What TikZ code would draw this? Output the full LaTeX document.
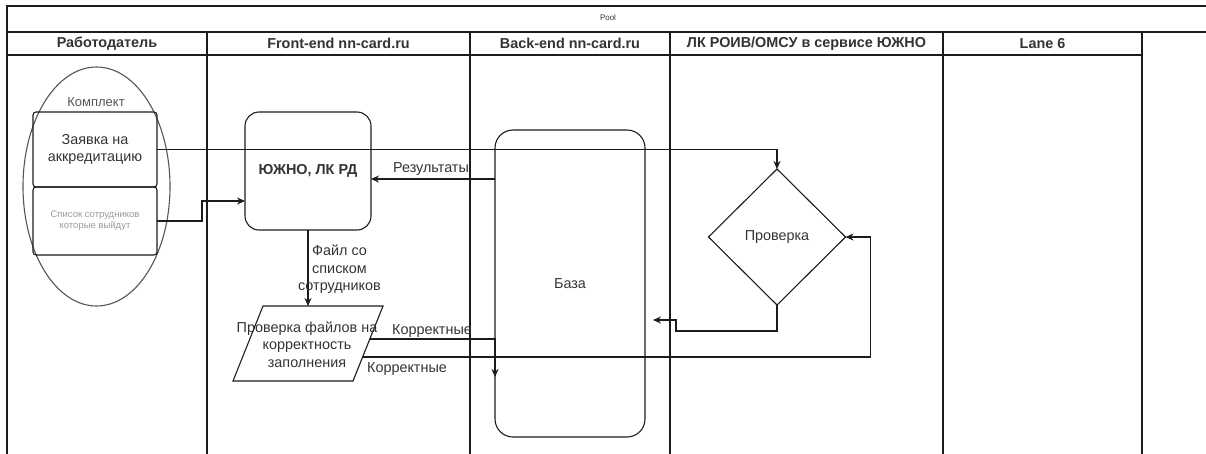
\documentclass[tikz,border=0pt]{standalone}
\usepackage{fontspec}
\setmainfont{Liberation Sans}
\usetikzlibrary{arrows.meta,shapes.geometric,calc}
\definecolor{ln}{HTML}{1C1C1C}
\definecolor{txt}{HTML}{333333}
\definecolor{elc}{HTML}{555555}
\definecolor{faint}{HTML}{9A9A9A}
\begin{document}
\begin{tikzpicture}[x=1pt,y=-1pt,
  line/.style={draw=ln, line width=1.1pt},
  conn/.style={draw=ln, line width=1.1pt, -{Stealth[length=8pt,width=7pt]}},
  lbl/.style={font=\fontsize{14.4}{17.4}\selectfont, text=txt, inner sep=0pt, align=center},
  lanetitle/.style={font=\fontsize{14.4}{17}\selectfont\bfseries, text=txt, inner sep=0pt},
  box/.style={draw=ln, line width=1.1pt, inner sep=0pt, outer sep=0pt, align=center, text=txt,
    font=\fontsize{14.4}{17.4}\selectfont}
]
\useasboundingbox (0,0) rectangle (1206,453);
\begin{scope}
\clip (0,0) rectangle (1206,453);
% pool frame
\draw[line] (7,460) -- (7,6) -- (1212,6);
\draw[line] (7,32) -- (1212,32);
\draw[line] (7,55) -- (1142,55);
\foreach \xx in {207,470,670,943,1142}{\draw[line] (\xx,32) -- (\xx,460);}
\end{scope}
\node[font=\fontsize{8}{9}\selectfont, text=txt, inner sep=0pt] (pool) at (608,18) {Pool};
\node[lanetitle] (l1) at (107,43.5) {Работодатель};
\node[lanetitle] (l2) at (338.5,43.5) {Front-end nn-card.ru};
\node[lanetitle] (l3) at (570,43.5) {Back-end nn-card.ru};
\node[lanetitle] (l4) at (806.5,43.5) {ЛК РОИВ/ОМСУ в сервисе ЮЖНО};
\node[lanetitle] (l5) at (1042.5,43.5) {Lane 6};

% Комплект
\node[ellipse, draw=elc, line width=1.1pt, minimum width=147pt, minimum height=239pt, inner sep=0pt, outer sep=0pt] (kompl) at (96.5,186.5) {};
\node[font=\fontsize{13}{15}\selectfont, text=elc, inner sep=0pt] (komplt) at (96,102) {Комплект};
\node[box, rounded corners=3pt, minimum width=124pt, minimum height=75pt] (zayavka) at (95,149.5) {Заявка на\\аккредитацию};
\node[box, rounded corners=3pt, minimum width=124pt, minimum height=68pt, text=faint,
  font=\fontsize{9.5}{11}\selectfont] (spisok) at (95,221) {Список сотрудников\\которые выйдут};

% Front-end
\node[box, rounded corners=14pt, minimum width=126pt, minimum height=118pt, font=\fontsize{14.4}{17}\selectfont\bfseries] (ujno) at (308,171) {ЮЖНО, ЛК РД};
\draw[line] (263,306) -- (383,306) -- (353,381) -- (233,381) -- cycle;
\node[lbl] (chk) at (307,344.5) {Проверка файлов на\\корректность\\заполнения};
\coordinate (chkTop) at (308,306);
\coordinate (chkR1) at (369.8,339);
\coordinate (chkR2) at (362.6,357);

% Back-end
\node[box, rounded corners=18pt, minimum width=150pt, minimum height=307pt] (baza) at (570,283.5) {База};
\coordinate (rs) at ($(baza.west)+(0,-104.5)$);
\coordinate (back) at ($(baza.east)+(8,36.5)$);
\coordinate (backjog) at ($(baza.east)+(31,36.5)$);

% Check
\node[diamond, draw=ln, line width=1.1pt, aspect=1, minimum width=137pt, minimum height=136pt, inner sep=0pt, outer sep=0pt, text=txt, font=\fontsize{14.4}{17}\selectfont] (prov) at (777,237) {Проверка};
\coordinate (provloop) at ($(prov.east)+(25,0)$);

% connectors
\draw[conn] (zayavka.east) -- (zayavka.east -| prov.north) -- (prov.north);
\draw[conn] (spisok.east) -- ++(45,0) |- ($(ujno.west)+(0,30)$);
\draw[conn] (rs) -- (rs -| ujno.east);
\node[lbl] (lres) at (431,169) {Результаты};
\draw[conn] (ujno.south) -- (chkTop);
\node[lbl] (lfile) at (339.5,269.5) {Файл со\\списком\\сотрудников};
\draw[conn] (chkR1) -- (chkR1 -| baza.west) -- ++(0,38);
\node[lbl] (lok1) at (432,331) {Корректные};
\draw[conn] (chkR2) -| (provloop) -- (prov.east);
\node[lbl] (lok2) at (407,369) {Корректные};
\draw[conn] (prov.south) -- ++(0,26) -| (backjog) -- (back);
\end{tikzpicture}
\end{document}
